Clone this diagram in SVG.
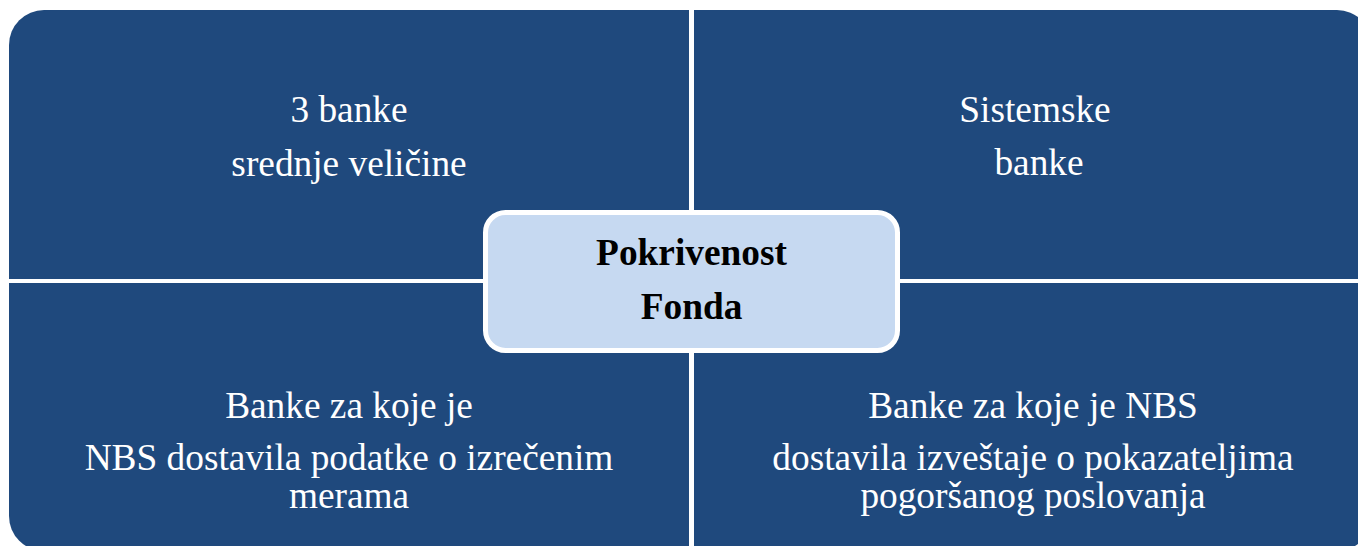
<svg xmlns="http://www.w3.org/2000/svg" width="1358" height="546" viewBox="0 0 1358 546">
<style>
.q{fill:#1F497D}
.t{font-family:"Liberation Serif","Times New Roman",serif;font-size:37.33px;fill:#FFFFFF;text-anchor:middle}
.c{font-family:"Liberation Serif","Times New Roman",serif;font-size:37.33px;font-weight:bold;fill:#000000;text-anchor:middle}
</style>
<rect width="1358" height="546" fill="#FFFFFF"/>
<g id="q-top-left">
<path class="q" d="M9,45 A35,35 0 0 1 44,10 L689,10 L689,279 L9,279 Z"/>
<text class="t" x="349" y="122">3 banke</text>
<text class="t" x="349" y="176">srednje veličine</text>
</g>
<g id="q-top-right">
<path class="q" d="M694,10 L1337,10 A35,35 0 0 1 1372,45 L1372,279 L694,279 Z"/>
<text class="t" x="1035" y="122">Sistemske</text>
<text class="t" x="1039" y="175">banke</text>
</g>
<g id="q-bottom-left">
<path class="q" d="M9,283 L689,283 L689,551 L44,551 A35,35 0 0 1 9,516 Z"/>
<text class="t" x="349" y="418">Banke za koje je</text>
<text class="t" x="349" y="470">NBS dostavila podatke o izrečenim</text>
<text class="t" x="349" y="508">merama</text>
</g>
<g id="q-bottom-right">
<path class="q" d="M694,283 L1372,283 L1372,516 A35,35 0 0 1 1337,551 L694,551 Z"/>
<text class="t" x="1033" y="418">Banke za koje je NBS</text>
<text class="t" x="1033" y="470">dostavila izveštaje o pokazateljima</text>
<text class="t" x="1033" y="508">pogoršanog poslovanja</text>
</g>
<g id="connectors"></g>
<g id="center">
<rect x="485.5" y="212.5" width="412" height="138" rx="20" ry="20" fill="#C6D9F1" stroke="#FFFFFF" stroke-width="5"/>
<text class="c" x="691.5" y="265">Pokrivenost</text>
<text class="c" x="691.5" y="319">Fonda</text>
</g>
</svg>
